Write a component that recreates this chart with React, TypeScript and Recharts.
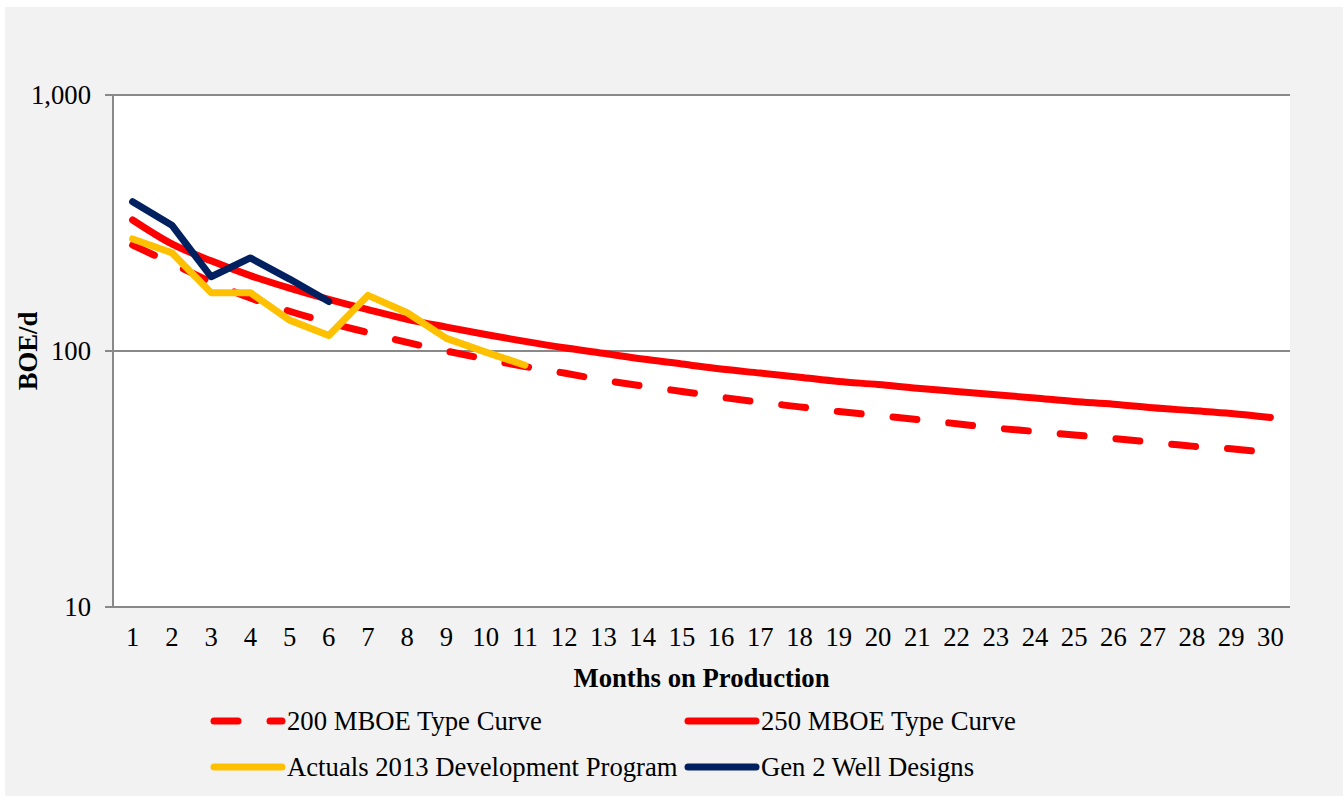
import React from "react";
import {
  LineChart,
  Line,
  XAxis,
  YAxis,
  CartesianGrid,
  Legend,
} from "recharts";

// months on production
const months = [
  1, 2, 3, 4, 5, 6, 7, 8, 9, 10, 11, 12, 13, 14, 15, 16, 17, 18, 19, 20, 21,
  22, 23, 24, 25, 26, 27, 28, 29, 30,
];

// BOE/d
const typeCurve200 = [
  259, 220, 186, 161, 143, 129, 118, 108, 100, 93, 87, 82, 77, 73, 69.5, 66,
  63, 60.5, 58, 56, 54, 52, 50, 48.5, 47, 45.5, 44, 42.5, 41.5, 40,
];
const typeCurve250 = [
  325, 262, 225, 197, 176, 159, 145, 133, 124, 116, 109, 103, 98, 93, 89, 85,
  82, 79, 76, 74, 71.5, 69.5, 67.5, 65.5, 63.5, 62, 60, 58.5, 57, 55,
];
const actuals2013 = [274, 242, 169, 169, 132, 115, 165, 141, 112, 99, 88];
const gen2Wells = [383, 310, 195, 231, 191, 156];

const yTicks = [10, 100, 1000];
const bandEdges = [...months.map((m) => m - 0.5), 30.5];

const RED = "#FF0000";
const GOLD = "#FFC000";
const NAVY = "#002060";
const AXIS = "#898989";
const FONT = "'Liberation Serif', 'Times New Roman', serif";
const FS = 26.7;
const DASH = "24 32";

const data = months.map((m, i) => ({
  month: m,
  tc200: typeCurve200[i],
  tc250: typeCurve250[i],
  actuals: actuals2013[i],
  gen2: gen2Wells[i],
}));

const legendItems = [
  { name: "200 MBOE Type Curve", color: RED, dash: true, left: 206, top: 9 },
  { name: "250 MBOE Type Curve", color: RED, dash: false, left: 680, top: 9 },
  { name: "Actuals 2013 Development Program", color: GOLD, dash: false, left: 206, top: 55 },
  { name: "Gen 2 Well Designs", color: NAVY, dash: false, left: 680, top: 55 },
];

function ChartLegend() {
  return (
    <div style={{ position: "relative", width: 1343, height: 99, fontFamily: FONT }}>
      {legendItems.map((it) => (
        <div
          key={it.name}
          style={{
            position: "absolute",
            left: it.left,
            top: it.top,
            display: "flex",
            alignItems: "center",
            height: 30,
          }}
        >
          <svg width={80} height={10}>
            <line
              x1={8}
              y1={5}
              x2={76}
              y2={5}
              stroke={it.color}
              strokeWidth={7}
              strokeLinecap="round"
              strokeDasharray={it.dash ? DASH : undefined}
            />
          </svg>
          <span style={{ fontSize: FS, color: "#000", marginLeft: 1, whiteSpace: "nowrap" }}>
            {it.name}
          </span>
        </div>
      ))}
    </div>
  );
}

export default function App() {
  return (
    <div
      style={{
        position: "absolute",
        left: 0,
        top: 0,
        width: 1343,
        height: 796,
        background: "#fff",
      }}
    >
      <div
        style={{
          position: "absolute",
          left: 5,
          top: 7,
          right: 0,
          bottom: 0,
          background: "#F2F2F2",
        }}
      />
      <LineChart
        width={1343}
        height={796}
        data={data}
        margin={{ top: 95, right: 53, left: 0, bottom: 0 }}
        style={{ fontFamily: FONT }}
      >
        <CartesianGrid
          vertical={false}
          fill="#FFFFFF"
          stroke={AXIS}
          strokeWidth={2}
          horizontalValues={yTicks}
        />
        <XAxis
          xAxisId="edges"
          dataKey="month"
          type="number"
          domain={[0.5, 30.5]}
          ticks={bandEdges}
          interval={0}
          tickFormatter={() => ""}
          height={0}
          stroke={AXIS}
          strokeWidth={2}
          tickSize={7}
        />
        <XAxis
          xAxisId="labels"
          dataKey="month"
          type="number"
          domain={[0.5, 30.5]}
          ticks={months}
          interval={0}
          axisLine={false}
          tickLine={false}
          tickSize={0}
          tickMargin={20}
          height={90}
          tick={{ fill: "#000", fontSize: FS, fontFamily: FONT }}
          label={{
            value: "Months on Production",
            position: "insideBottom",
            offset: 10,
            style: { fill: "#000", fontSize: FS, fontWeight: "bold", fontFamily: FONT },
          }}
        />
        <YAxis
          scale="log"
          domain={[10, 1000]}
          ticks={yTicks}
          interval={0}
          allowDataOverflow
          width={113}
          stroke={AXIS}
          strokeWidth={2}
          tickSize={8}
          tickMargin={14}
          tickFormatter={(v: number) => v.toLocaleString("en-US")}
          tick={{ fill: "#000", fontSize: FS, fontFamily: FONT }}
          label={{
            value: "BOE/d",
            angle: -90,
            position: "insideLeft",
            offset: 28,
            style: {
              fill: "#000",
              fontSize: FS,
              fontWeight: "bold",
              fontFamily: FONT,
              textAnchor: "middle",
            },
          }}
        />
        <Legend verticalAlign="bottom" content={() => <ChartLegend />} />
        <Line
          xAxisId="edges"
          dataKey="tc200"
          name="200 MBOE Type Curve"
          stroke={RED}
          strokeWidth={7}
          strokeDasharray={DASH}
          strokeLinecap="round"
          dot={false}
          type="monotone"
          isAnimationActive={false}
        />
        <Line
          xAxisId="edges"
          dataKey="tc250"
          name="250 MBOE Type Curve"
          stroke={RED}
          strokeWidth={7}
          strokeLinecap="round"
          dot={false}
          type="monotone"
          isAnimationActive={false}
        />
        <Line
          xAxisId="edges"
          dataKey="actuals"
          name="Actuals 2013 Development Program"
          stroke={GOLD}
          strokeWidth={7}
          strokeLinecap="round"
          strokeLinejoin="round"
          dot={false}
          isAnimationActive={false}
        />
        <Line
          xAxisId="edges"
          dataKey="gen2"
          name="Gen 2 Well Designs"
          stroke={NAVY}
          strokeWidth={7}
          strokeLinecap="round"
          strokeLinejoin="round"
          dot={false}
          isAnimationActive={false}
        />
      </LineChart>
    </div>
  );
}
